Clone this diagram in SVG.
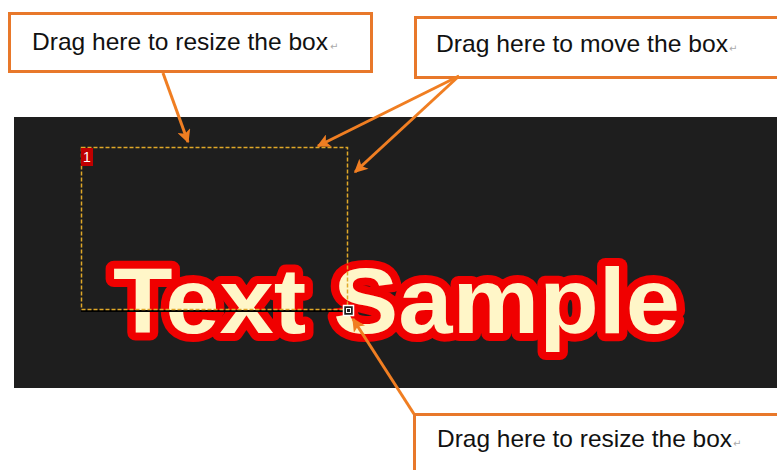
<svg xmlns="http://www.w3.org/2000/svg" width="777" height="470" viewBox="0 0 777 470">
  <style>
    .callout { fill: #ffffff; stroke: #E8782A; stroke-width: 3; }
    .label { font-family: "Liberation Sans", Arial, sans-serif; font-size: 24px; fill: #111111; }
    .mark { font-family: "DejaVu Sans", sans-serif; font-size: 10px; fill: #aaaaaa; }
    .conn { stroke: #F07E22; stroke-width: 3; fill: none; marker-end: url(#ah); }
  </style>
  <defs>
    <marker id="ah" viewBox="0 0 10 10" refX="9" refY="5" markerWidth="5" markerHeight="4.5" orient="auto" markerUnits="strokeWidth">
      <path d="M0,0 L10,5 L0,10 L2.5,5 Z" fill="#F07E22"/>
    </marker>
  </defs>
  <rect width="777" height="470" fill="#ffffff"/>
  <g id="screen">
    <rect x="14" y="117" width="763" height="271" fill="#1E1E1E"/>
    <text x="113" y="333" font-family="'Liberation Sans', Arial, sans-serif" font-weight="bold" font-size="92" textLength="567" lengthAdjust="spacingAndGlyphs" fill="#FFF6C8" stroke="#F00000" stroke-width="16" stroke-linejoin="round" paint-order="stroke">Text Sample</text>
  </g>
  <g id="textbox">
    <line x1="81" y1="311" x2="343" y2="311" stroke="#000000" stroke-width="2"/>
    <rect x="81.5" y="147.5" width="266" height="162" fill="none" stroke="#E0A828" stroke-width="1.5" stroke-dasharray="4 2"/>
    <rect x="81" y="148" width="12" height="18" fill="#C00000"/>
    <text x="87" y="162" text-anchor="middle" font-family="'Liberation Sans', Arial, sans-serif" font-size="14" fill="#ffffff">1</text>
    <rect x="343.5" y="305.5" width="10" height="10" fill="#1E1E1E" stroke="#ffffff" stroke-width="1.5"/>
    <rect x="346.5" y="308.5" width="4" height="4" fill="none" stroke="#ffffff" stroke-width="1"/>
  </g>
  <g id="callout-resize-top">
    <rect class="callout" x="9.5" y="13.5" width="362" height="58"/>
    <text class="label" x="32" y="50" textLength="296" lengthAdjust="spacingAndGlyphs">Drag here to resize the box</text>
    <text class="mark" x="330" y="50">↵</text>
  </g>
  <g id="callout-move">
    <rect class="callout" x="415.5" y="17.5" width="365" height="60"/>
    <text class="label" x="436" y="52" textLength="292" lengthAdjust="spacingAndGlyphs">Drag here to move the box</text>
    <text class="mark" x="729" y="52">↵</text>
  </g>
  <g id="callout-resize-bottom">
    <rect class="callout" x="414.5" y="414.5" width="366" height="60"/>
    <text class="label" x="437" y="447" textLength="295" lengthAdjust="spacingAndGlyphs">Drag here to resize the box</text>
    <text class="mark" x="733" y="447">↵</text>
  </g>
  <g id="connectors">
    <line class="conn" x1="163" y1="73" x2="188" y2="142"/>
    <line class="conn" x1="459" y1="76" x2="318" y2="146"/>
    <line class="conn" x1="459" y1="76" x2="355" y2="172"/>
    <line class="conn" x1="414" y1="414" x2="353" y2="319"/>
  </g>
</svg>
